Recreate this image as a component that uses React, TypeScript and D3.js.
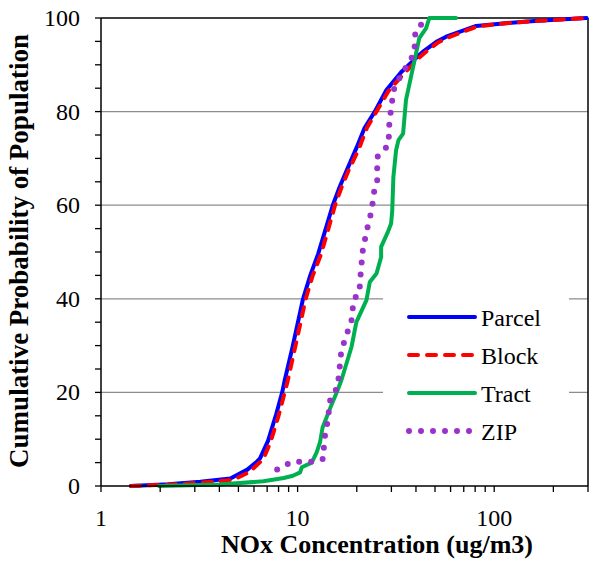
import React from "react";
import * as d3 from "d3";

// NOx concentration (ug/m3) and cumulative probability (%) for each series
const parcelX = [1.42, 2.2, 3.2, 4.55, 5.55, 6.2, 6.44, 7.08, 7.8, 8.35, 8.6, 9.4, 10.66, 11.6, 12.7, 13.8, 15.1, 16.4, 17.8, 20, 21.9, 24.7, 28.3, 33.6, 40.6, 44, 50.8, 57, 66, 81, 114, 167, 295];
const parcelY = [0, 0.4, 0.9, 1.6, 3.5, 5.2, 5.9, 9.7, 15.5, 20, 22.6, 29.5, 40, 45, 49.5, 54.5, 60, 64, 67.5, 72.4, 76.5, 80, 84.6, 88.4, 91.7, 93, 94.9, 96, 97, 98.3, 98.9, 99.4, 100];

const blockX = [1.42, 2.2, 3.2, 4.7, 5.7, 6.4, 6.7, 7.3, 8.0, 8.6, 8.9, 9.7, 11.0, 11.9, 13.1, 14.2, 15.5, 16.8, 18.2, 20.5, 22.5, 25.2, 29, 34.5, 41.5, 45, 51.5, 58, 67, 82, 115, 170, 295];
const blockY = [0, 0.3, 0.7, 1.3, 3, 5, 5.8, 9.5, 15, 20, 22.4, 29.5, 40, 44.8, 49.3, 54.3, 60, 64, 67.5, 72, 76.5, 80, 84.4, 88, 91.5, 92.8, 94.7, 95.8, 96.8, 98.2, 98.9, 99.4, 100];

const tractX = [1.97, 4, 6.7, 8.5, 9.47, 10.3, 10.5, 11.8, 12.5, 13, 13.4, 14.7, 15.8, 16.7, 18.8, 19.9, 22.4, 23.3, 25.2, 26.6, 26.6, 28.8, 29.9, 30.3, 30.7, 31.7, 32.6, 34.4, 35.6, 38.4, 41.6, 45, 46.8, 64];
const tractY = [0, 0.3, 1, 1.7, 2.2, 2.9, 4, 5, 7.2, 9.3, 12.5, 16.8, 20, 22.6, 29.7, 35, 39.7, 43.6, 45.4, 48.9, 51.1, 54.3, 56.1, 58.9, 66, 71.8, 73.9, 75.3, 82.5, 88.9, 95.7, 97.8, 100, 100];

const zipX = [7.87, 9.37, 12.4, 13.6, 13.6, 13.8, 14.4, 14.4, 16, 16.7, 18.8, 19.3, 20.6, 21, 21.5, 22.6, 23.8, 24.6, 25.4, 25.4, 27, 29, 29.3, 30.3, 31, 33.6, 37, 39.4, 39.4, 39.8, 44, 45.6];
const zipY = [3.5, 5.2, 5.2, 5.9, 8.5, 11, 15.1, 17.7, 21.3, 29, 35.4, 39.9, 41.2, 46.1, 50.7, 55, 58.9, 63.4, 65.3, 70.3, 71.3, 73, 77.8, 82.4, 85, 87.8, 90.6, 92.7, 94.9, 97.4, 99.2, 100];

const seriesNames = ["Parcel", "Block", "Tract", "ZIP"];
const yTicks = [0, 20, 40, 60, 80, 100];
const yMinorTicks = [5, 10, 15, 25, 30, 35, 45, 50, 55, 65, 70, 75, 85, 90, 95];
const xTicks = [1, 10, 100];
const xMinorTicks = [2, 3, 4, 5, 6, 7, 8, 9, 20, 30, 40, 50, 60, 70, 80, 90, 200, 300];

const W = 600;
const H = 569;
const mLeft = 101;
const mRight = 588;
const mTop = 18;
const mBottom = 486;
const FONT = "Liberation Serif";

const styles: Record<string, { color: string; dash?: string; width: number }> = {
  Parcel: { color: "#0000FF", width: 4 },
  Block: { color: "#FF0000", dash: "9 9", width: 4 },
  Tract: { color: "#00B050", width: 4 },
  ZIP: { color: "#9933CC", dash: "0 12", width: 6 },
};

export default function App() {
  const x = d3.scaleLog().domain([1, 300]).range([mLeft, mRight]);
  const y = d3.scaleLinear().domain([0, 100]).range([mBottom, mTop]);
  const line = d3
    .line<[number, number]>()
    .x((d) => x(d[0]))
    .y((d) => y(d[1]));

  const data: Record<string, [number, number][]> = {
    Parcel: parcelX.map((v, i) => [v, parcelY[i]]),
    Block: blockX.map((v, i) => [v, blockY[i]]),
    Tract: tractX.map((v, i) => [v, tractY[i]]),
    ZIP: zipX.map((v, i) => [v, zipY[i]]),
  };

  const legendX0 = 409;
  const legendX1 = 475;
  const legendY0 = 317;
  const legendStep = 38;

  return (
    <div style={{ position: "absolute", left: 0, top: 0, width: W, height: H, background: "#fff", fontFamily: FONT }}>
      <svg width={W} height={H} fontFamily={FONT}>
        {yTicks
          .filter((t) => t > 0 && t < 100)
          .map((t) => (
            <line key={"g" + t} x1={mLeft} x2={mRight} y1={y(t)} y2={y(t)} stroke="#8c8c8c" strokeWidth={1.3} />
          ))}
        <rect x={383} y={292} width={186} height={156} fill="#fff" />
        <line x1={mLeft} x2={mRight} y1={mTop} y2={mTop} stroke="#000" strokeWidth={1.5} />
        <line x1={mRight} x2={mRight} y1={mTop} y2={mBottom} stroke="#000" strokeWidth={1.5} />
        {seriesNames.map((name) => {
          const s = styles[name];
          return (
            <path
              key={name}
              d={line(data[name]) || ""}
              fill="none"
              stroke={s.color}
              strokeWidth={s.width}
              strokeDasharray={s.dash}
              strokeLinecap="round"
              strokeLinejoin="round"
            />
          );
        })}
        <line x1={mLeft} x2={mLeft} y1={mTop} y2={mBottom} stroke="#000" strokeWidth={1.5} />
        <line x1={mLeft} x2={mRight} y1={mBottom} y2={mBottom} stroke="#000" strokeWidth={1.5} />
        {yTicks.concat(yMinorTicks).map((t) => (
          <line key={"yt" + t} x1={mLeft - 6} x2={mLeft} y1={y(t)} y2={y(t)} stroke="#000" strokeWidth={1.3} />
        ))}
        {yTicks.map((t) => (
          <text key={"yl" + t} x={80} y={y(t) + 8} textAnchor="end" fontSize={24} fontFamily={FONT}>
            {String(t)}
          </text>
        ))}
        {xTicks.concat(xMinorTicks).map((t) => (
          <line key={"xt" + t} x1={x(t)} x2={x(t)} y1={mBottom} y2={mBottom + 6} stroke="#000" strokeWidth={1.3} />
        ))}
        {xTicks.map((t) => (
          <text key={"xl" + t} x={x(t)} y={526} textAnchor="middle" fontSize={24} fontFamily={FONT}>
            {String(t)}
          </text>
        ))}
        <text x={377} y={553} textAnchor="middle" fontSize={26} fontWeight="bold" fontFamily={FONT}>
          NOx Concentration (ug/m3)
        </text>
        <text
          transform="translate(28, 251) rotate(-90)"
          textAnchor="middle"
          fontSize={27}
          fontWeight="bold"
          fontFamily={FONT}
        >
          Cumulative Probability of Population
        </text>
        {seriesNames.map((name, i) => {
          const s = styles[name];
          const ly = legendY0 + i * legendStep;
          return (
            <g key={"lg" + name}>
              <line
                x1={legendX0}
                x2={legendX1}
                y1={ly}
                y2={ly}
                stroke={s.color}
                strokeWidth={s.width}
                strokeDasharray={s.dash}
                strokeLinecap="round"
              />
              <text x={481} y={ly + 9} fontSize={24} fontFamily={FONT}>
                {name}
              </text>
            </g>
          );
        })}
      </svg>
    </div>
  );
}
